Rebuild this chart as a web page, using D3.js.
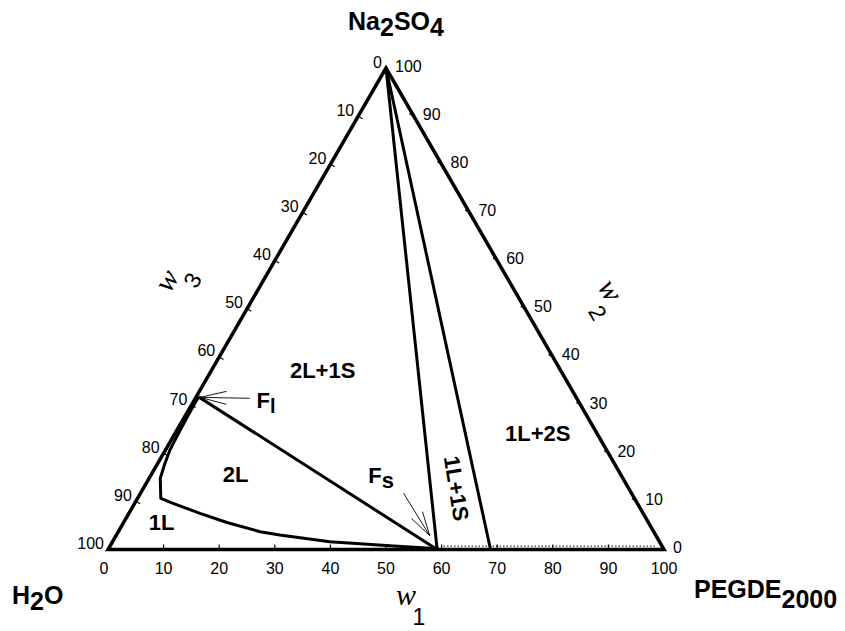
<!DOCTYPE html>
<html>
<head>
<meta charset="utf-8">
<script src="https://cdn.jsdelivr.net/npm/d3@7/dist/d3.min.js"></script>
<style>
  html, body { margin: 0; padding: 0; background: #fff; }
  svg { display: block; }
  .tick-label { font-family: "Liberation Sans", Arial, sans-serif; font-size: 16px; fill: #000; }
  .region { font-family: "Liberation Sans", Arial, sans-serif; font-size: 22px; font-weight: bold; fill: #000; }
  .vertex { font-family: "Liberation Sans", Arial, sans-serif; font-size: 25px; font-weight: bold; fill: #000; }
  .wlab { font-family: "Liberation Serif", "DejaVu Serif", serif; font-style: italic; font-size: 30px; fill: #000; }
  .wsub { font-family: "Liberation Sans", Arial, sans-serif; font-size: 23px; fill: #000; }
</style>
</head>
<body>
<svg id="chart" width="845" height="631"></svg>
<script>
// ---------------- data (mass fractions, %) ----------------
// w1 = PEGDE2000 (bottom axis), w2 = Na2SO4 (right axis, top vertex), w3 = H2O (left axis)
const tickValues = [0, 10, 20, 30, 40, 50, 60, 70, 80, 90, 100];

// binodal curve (w1, w2)
const binodalW1 = [0.44, 0.5, 0.65, 0.8, 1.3, 2.0, 4.2, 6.9, 12.8, 18.6, 25.5, 29.4, 39.1, 50.3, 57.8, 59.2];
const binodalW2 = [31.7, 27.6, 23.4, 20.7, 17.9, 14.8, 10.6, 9.6, 7.5, 5.6, 3.7, 3.0, 1.6, 0.8, 0.25, 0];

// critical tie line Fl - Fs
const tieW1 = [0.44, 59.2];
const tieW2 = [31.7, 0];

// three-phase triangle boundaries (from pure Na2SO4 vertex)
const line1W1 = [0, 59.2];
const line1W2 = [100, 0];
const line2W1 = [0, 68.8];
const line2W2 = [100, 0];

// faint solubility curve along the base (dotted)
const baseW1 = [60, 98];
const baseW2 = [0.7, 0.7];

// arrows [tailW1, tailW2, tipW1, tipW2]
const arrowFl = [9.8, 31.4, 0.8, 31.6];
const arrowFs = [47.3, 11.7, 56.4, 2.9];

// ---------------- scales ----------------
const svg = d3.select("#chart");
const sx = d3.scaleLinear().domain([0, 100]).range([108, 664]);
const sy = d3.scaleLinear().domain([0, 100]).range([549.5, 68]);
const px = (w1, w2) => [sx(w1 + w2 / 2), sy(w2)];

const lineGen = d3.line();

// triangle edges
const corners = [px(0, 0), px(100, 0), px(0, 100)];
svg.append("path")
  .attr("d", lineGen([corners[0], corners[1], corners[2]]) + "Z")
  .attr("fill", "none").attr("stroke", "#000").attr("stroke-width", 3.5)
  .attr("stroke-linejoin", "miter");

// ticks
const tl = 5;
tickValues.slice(1, -1).forEach(v => {
  const b = px(v, 0);
  svg.append("line").attr("x1", b[0]).attr("y1", b[1]).attr("x2", b[0]).attr("y2", b[1] - tl)
    .attr("stroke", "#000").attr("stroke-width", 1.2);
  const r = px(100 - v, v);
  svg.append("line").attr("x1", r[0]).attr("y1", r[1]).attr("x2", r[0] - tl * 0.866).attr("y2", r[1] - tl * 0.5)
    .attr("stroke", "#000").attr("stroke-width", 1.2);
  const l = px(0, 100 - v);
  svg.append("line").attr("x1", l[0]).attr("y1", l[1]).attr("x2", l[0] + tl * 0.866).attr("y2", l[1] + tl * 0.5)
    .attr("stroke", "#000").attr("stroke-width", 1.2);
});

// tick labels
tickValues.forEach(v => {
  const b = px(v, 0);
  svg.append("text").attr("class", "tick-label").attr("x", b[0] - (v === 0 ? 4 : 0)).attr("y", b[1] + 24)
    .attr("text-anchor", "middle").text(v);
  const r = px(100 - v, v);
  svg.append("text").attr("class", "tick-label").attr("x", r[0] + 9).attr("y", r[1] - 2)
    .attr("dominant-baseline", "central").text(v);
  const l = px(0, 100 - v);
  svg.append("text").attr("class", "tick-label").attr("x", l[0] - 4).attr("y", l[1] - 6)
    .attr("dominant-baseline", "central").attr("text-anchor", "end").text(v);
});

// phase boundaries
function drawSeries(w1s, w2s, width, dash) {
  const pts = w1s.map((d, i) => px(d, w2s[i]));
  const p = svg.append("path").attr("d", lineGen(pts)).attr("fill", "none")
    .attr("stroke", "#000").attr("stroke-width", width).attr("stroke-linejoin", "round");
  if (dash) p.attr("stroke-dasharray", dash);
}
drawSeries(baseW1, baseW2, 1, "1.5,2");
drawSeries(line1W1, line1W2, 3);
drawSeries(line2W1, line2W2, 3);
drawSeries(tieW1, tieW2, 3);
drawSeries(binodalW1, binodalW2, 3);

// arrows (open, thin)
function drawArrow(a, len, half) {
  const t = px(a[0], a[1]), h = px(a[2], a[3]);
  const ang = Math.atan2(t[1] - h[1], t[0] - h[0]);
  const g = svg.append("g").attr("stroke", "#000").attr("stroke-width", 0.9).attr("fill", "none");
  g.append("line").attr("x1", t[0]).attr("y1", t[1]).attr("x2", h[0]).attr("y2", h[1]);
  [-1, 1].forEach(s => {
    const an = ang + s * half * Math.PI / 180;
    g.append("line").attr("x1", h[0]).attr("y1", h[1])
      .attr("x2", h[0] + len * Math.cos(an)).attr("y2", h[1] + len * Math.sin(an));
  });
}
drawArrow(arrowFl, 27, 14);
drawArrow(arrowFs, 25, 15);

// region labels
function region(txt, w1, w2, anchor) {
  const p = px(w1, w2);
  return svg.append("text").attr("class", "region").attr("x", p[0]).attr("y", p[1])
    .attr("text-anchor", anchor || "middle").text(txt);
}
region("2L+1S", 20.8, 35.6);
region("2L", 15.9, 14.1);
region("1L", 7.6, 4.05);
region("1L+2S", 66.0, 22.6);
{
  const c = px(56.3, 12.67);
  svg.append("text").attr("class", "region").attr("text-anchor", "middle")
    .attr("dominant-baseline", "central")
    .attr("transform", `translate(${c[0]},${c[1]}) rotate(81)`).text("1L+1S");
}
{
  const p = px(12.0, 29.4);
  const t = svg.append("text").attr("class", "region").attr("x", p[0]).attr("y", p[1]);
  t.append("tspan").text("F");
  t.append("tspan").attr("dy", 5).attr("font-size", 20).text("l");
}
{
  const p = px(39.9, 13.8);
  const t = svg.append("text").attr("class", "region").attr("x", p[0]).attr("y", p[1]);
  t.append("tspan").text("F");
  t.append("tspan").attr("dy", 5).text("s");
}

// vertex labels
function vertexLabel(x, y, parts, anchor) {
  const t = svg.append("text").attr("class", "vertex").attr("x", x).attr("y", y)
    .attr("text-anchor", anchor || "start");
  parts.forEach(([s, sub]) => {
    t.append("tspan").attr("dy", sub).text(s);
  });
  return t;
}
const apex = px(0, 100);
vertexLabel(apex[0] + 10, 30, [["Na", 0], ["2", 6], ["SO", -6], ["4", 6]], "middle");
vertexLabel(12, 604, [["H", 0], ["2", 6], ["O", -6]]);
vertexLabel(694, 598, [["PEGDE", 0], ["2000", 10]]);

// axis titles (w with subscript placed below-right)
function wLabel(cx, cy, rot, sub) {
  const g = svg.append("g").attr("transform", `translate(${cx},${cy}) rotate(${rot})`);
  g.append("text").attr("class", "wlab").attr("text-anchor", "middle")
    .attr("dominant-baseline", "central").text("w");
  g.append("text").attr("class", "wsub").attr("text-anchor", "middle")
    .attr("dominant-baseline", "central").attr("x", 13).attr("y", 23).text(sub);
}
wLabel(406, 594, 0, "1");
wLabel(166, 280, -60, "3");
wLabel(611, 290, 60, "2");
</script>
</body>
</html>
